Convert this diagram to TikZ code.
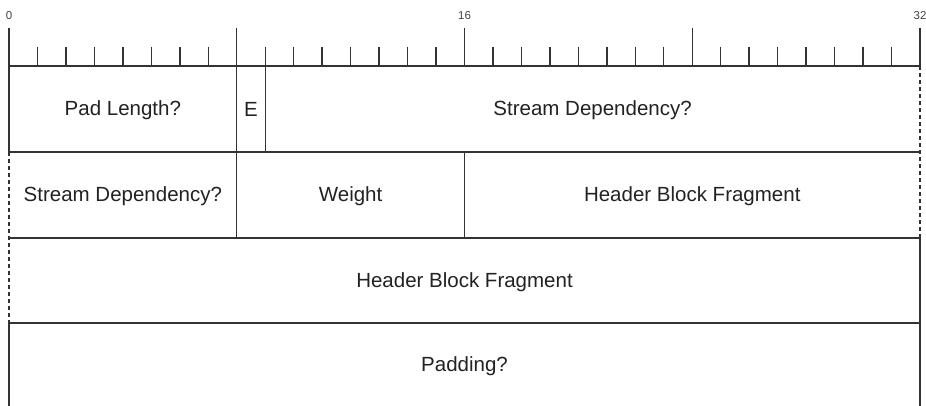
\documentclass[tikz,border=0pt]{standalone}
\usepackage{fontspec}
\setmainfont{Liberation Sans}
\definecolor{linec}{HTML}{333333}
\definecolor{textc}{HTML}{222222}
\definecolor{numc}{HTML}{444444}
\begin{document}
\begin{tikzpicture}[x=1pt,y=-1pt,
  grid/.style={draw=linec,line width=1.4pt},
  dashedge/.style={draw=linec,line width=1.4pt,dash pattern=on 4pt off 3pt},
  field/.style={inner sep=0pt,text=textc,font=\fontsize{20.5}{24}\selectfont},
  bitnum/.style={inner sep=0pt,text=numc,font=\fontsize{11.5}{13}\selectfont}]
\def\bw{28.46875}
\useasboundingbox (0,0) rectangle (926,406);
% bit positions
\foreach \b in {0,...,32} {
  \coordinate (t\b) at ({9+\b*\bw},66);
  \coordinate (s\b) at ({9+\b*\bw},47);
  \coordinate (l\b) at ({9+\b*\bw},28);
}
% ruler
\draw[grid] (t0) -- (t32);
\foreach \b in {1,...,7,9,10,...,15,17,18,...,23,25,26,...,31}
  \draw[grid] (s\b) -- (t\b);
\foreach \b in {0,8,16,24,32}
  \draw[grid] (l\b) -- (t\b);
\node[bitnum] (n0) at ({9},15.5) {0};
\node[bitnum] (n16) at ({9+16*\bw},15.5) {16};
\node[bitnum] (n32) at ({9+32*\bw},15.5) {32};
% row coordinates
\foreach \r/\y in {a/152,b/238,c/323,d/406} {
  \foreach \b in {0,8,9,16,32}
    \coordinate (\r\b) at ({9+\b*\bw},\y);
}
% horizontal row lines
\draw[grid] (a0) -- (a32);
\draw[grid] (b0) -- (b32);
\draw[grid] (c0) -- (c32);
% left edge
\draw[grid] (t0) -- (a0);
\draw[dashedge] (a0) -- (c0);
\draw[grid] (c0) -- (d0);
% right edge
\draw[dashedge] (t32) -- (b32);
\draw[grid] (b32) -- (d32);
% internal separators
\draw[grid] (t8) -- (b8);
\draw[grid] (t9) -- (a9);
\draw[grid] (a16) -- (b16);
% fields
\node[field] (padlen) at ({9+4*\bw},110) {Pad Length?};
\node[field] (ebit) at ({9+8.5*\bw},109) {E};
\node[field] (sdep1) at ({9+20.5*\bw},110) {Stream Dependency?};
\node[field] (sdep2) at ({9+4*\bw},196) {Stream Dependency?};
\node[field] (weight) at ({9+12*\bw},196) {Weight};
\node[field] (hbf1) at ({9+24*\bw},196) {Header Block Fragment};
\node[field] (hbf2) at ({9+16*\bw},282) {Header Block Fragment};
\node[field] (padding) at ({9+16*\bw},366) {Padding?};
\end{tikzpicture}
\end{document}
